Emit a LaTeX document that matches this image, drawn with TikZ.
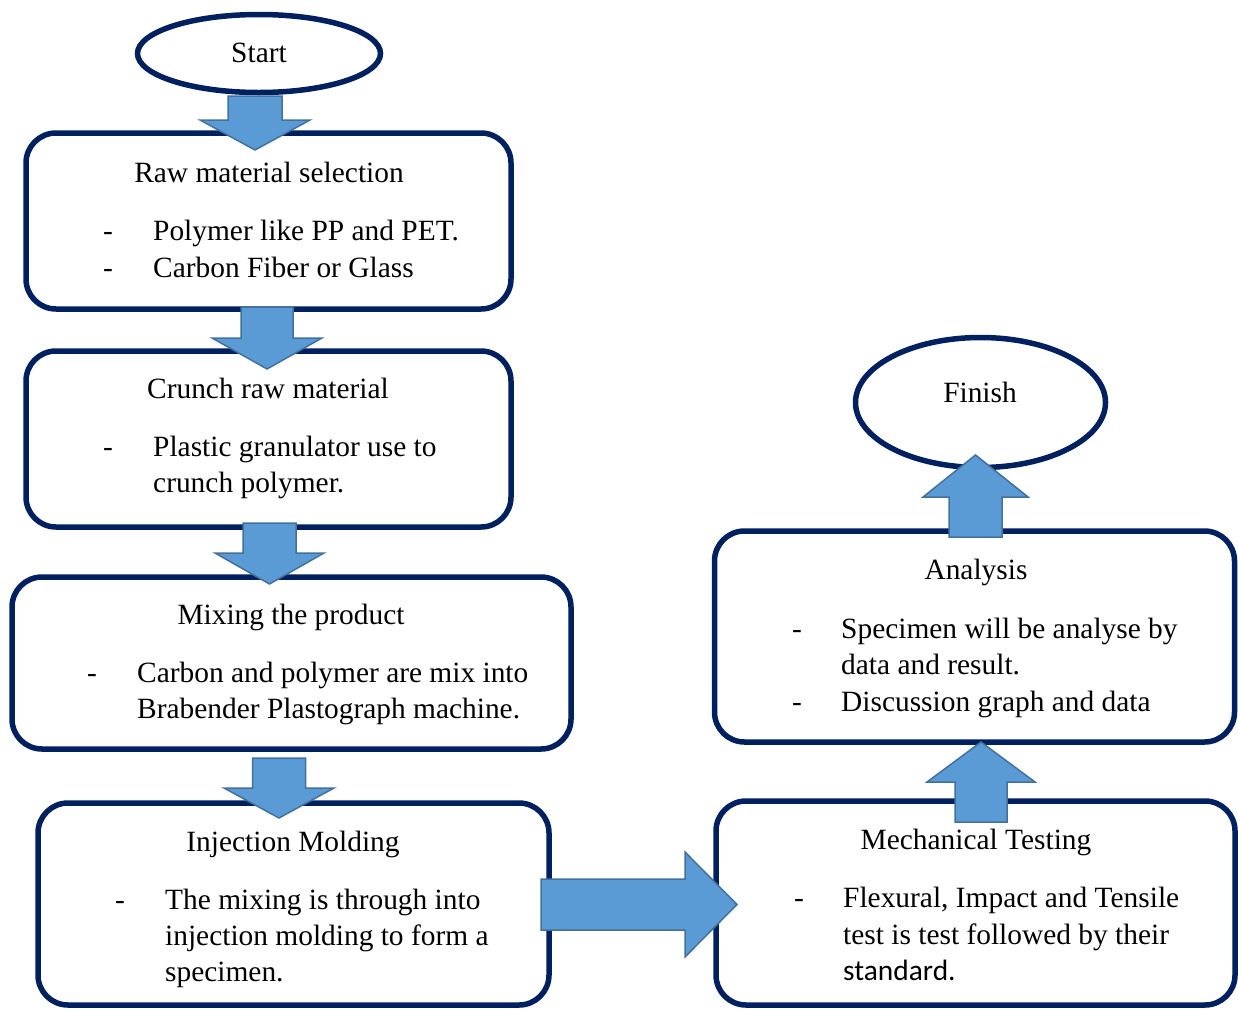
\documentclass[tikz,border=0pt]{standalone}
\usepackage{fontspec}
\setmainfont{Liberation Serif}
\newfontfamily\calib{Carlito}
\usetikzlibrary{shapes.geometric}
\definecolor{navy}{RGB}{0,32,96}
\definecolor{afill}{RGB}{91,155,213}
\definecolor{aline}{RGB}{65,113,156}
\newcommand\downblk[6]{% cx, shaft half, head half, top, base, tip
  \draw[barrow] (#1-#2,#4) -- (#1+#2,#4) -- (#1+#2,#5) -- (#1+#3,#5) -- (#1,#6) -- (#1-#3,#5) -- (#1-#2,#5) -- cycle;}
\begin{document}
\begin{tikzpicture}[x=1pt,y=-1pt,
  box/.style={draw=navy, line width=5.5pt, rounded corners=30pt, inner sep=0pt},
  oval/.style={ellipse, draw=navy, line width=5.5pt, inner sep=0pt},
  txt/.style={inner sep=0pt, font=\fontsize{29.4}{36}\selectfont},
  barrow/.style={fill=afill, draw=aline, line width=1.5pt, line join=miter}]
\useasboundingbox (0,0) rectangle (1238,1010);

% shapes
\node[oval, minimum width=243pt, minimum height=78pt] (start) at (259,53.5) {};
\node[oval, minimum width=250pt, minimum height=130pt] (finish) at (980.5,402.5) {};
\node[box, minimum width=485pt, minimum height=176pt] (b1) at (268.5,221) {};
\node[box, minimum width=485pt, minimum height=176pt] (b2) at (268.5,439) {};
\node[box, minimum width=559pt, minimum height=172pt] (b3) at (291.5,663) {};
\node[box, minimum width=511pt, minimum height=202pt] (b4) at (293.5,904) {};
\node[box, minimum width=520pt, minimum height=211pt] (ana) at (974.5,636.5) {};
\node[box, minimum width=519pt, minimum height=204pt] (mech) at (975.5,903) {};

% texts
\node[txt, anchor=base] (tstart) at (259,62) {Start};
\node[txt, anchor=base] (tfinish) at (980,402) {Finish};

\node[txt, anchor=base] (t1) at (269,182) {Raw material selection};
\node[txt, anchor=base] (d1a) at (108,240) {-};
\node[txt, anchor=base west] (l1a) at (153,240) {Polymer like PP and PET.};
\node[txt, anchor=base] (d1b) at (108,277) {-};
\node[txt, anchor=base west] (l1b) at (153,277) {Carbon Fiber or Glass};

\node[txt, anchor=base] (t2) at (268,398) {Crunch raw material};
\node[txt, anchor=base] (d2a) at (108,456) {-};
\node[txt, anchor=base west] (l2a) at (153,456) {Plastic granulator use to};
\node[txt, anchor=base west] (l2b) at (153,492) {crunch polymer.};

\node[txt, anchor=base] (t3) at (291,624) {Mixing the product};
\node[txt, anchor=base] (d3a) at (92,682) {-};
\node[txt, anchor=base west] (l3a) at (137,682) {Carbon and polymer are mix into};
\node[txt, anchor=base west] (l3b) at (137,718) {Brabender Plastograph machine.};

\node[txt, anchor=base] (t4) at (293,851) {Injection Molding};
\node[txt, anchor=base] (d4a) at (120,909) {-};
\node[txt, anchor=base west] (l4a) at (165,909) {The mixing is through into};
\node[txt, anchor=base west] (l4b) at (165,945) {injection molding to form a};
\node[txt, anchor=base west] (l4c) at (165,981) {specimen.};

\node[txt, anchor=base] (t5) at (976,579) {Analysis};
\node[txt, anchor=base] (d5a) at (797,638) {-};
\node[txt, anchor=base west] (l5a) at (841,638) {Specimen will be analyse by};
\node[txt, anchor=base west] (l5b) at (841,674) {data and result.};
\node[txt, anchor=base] (d5b) at (797,711) {-};
\node[txt, anchor=base west] (l5c) at (841,711) {Discussion graph and data};

\node[txt, anchor=base] (t6) at (976,849) {Mechanical Testing};
\node[txt, anchor=base] (d6a) at (799,907) {-};
\node[txt, anchor=base west] (l6a) at (843,907) {Flexural, Impact and Tensile};
\node[txt, anchor=base west] (l6b) at (843,944) {test is test followed by their};
\node[txt, anchor=base west] (l6c) at (843,980) {\calib standard.};

% block arrows
\downblk{255}{27}{55}{96}{120}{150}
\downblk{267}{26}{55}{307}{338}{369}
\downblk{269.5}{26.5}{54.5}{523}{553}{584}
\downblk{279}{26.5}{55}{758}{788}{818}
% right arrow b4 -> mech
\draw[barrow] (541,879) -- (685,879) -- (685,852) -- (737,904.5) -- (685,957) -- (685,930) -- (541,930) -- cycle;
% up arrows
\downblk{981}{26}{54}{822}{782}{742}
\downblk{975.5}{26.5}{52.5}{537}{497}{455}
\end{tikzpicture}
\end{document}
